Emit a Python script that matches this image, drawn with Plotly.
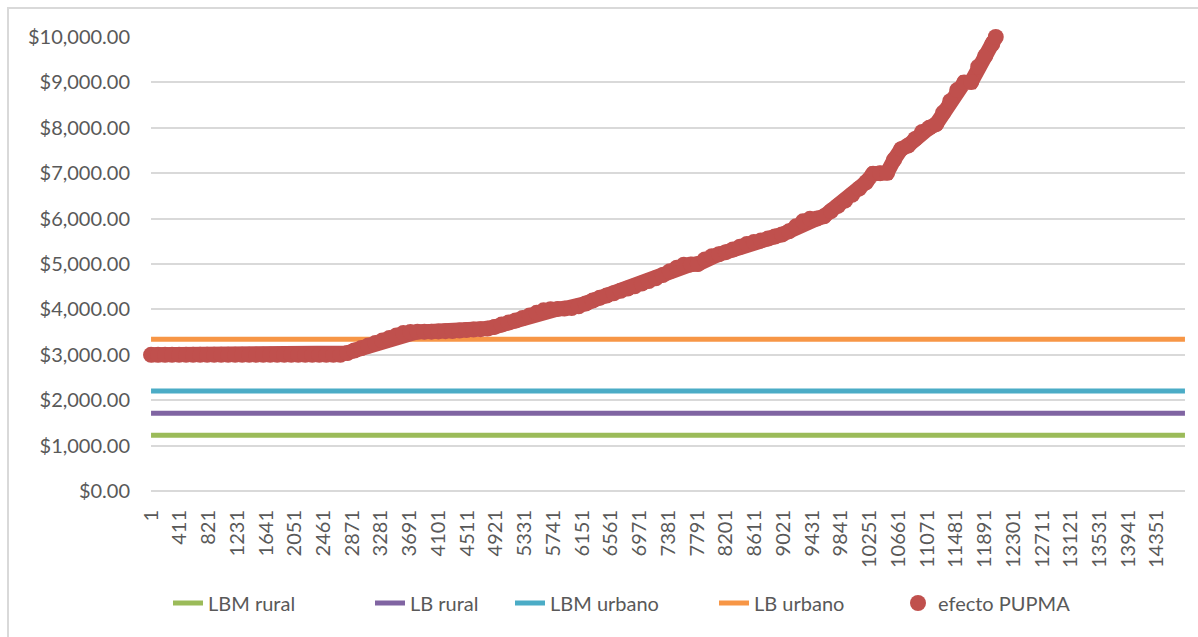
import plotly.graph_objects as go

# ---------------- data ----------------
N_CATEGORIES = 14750
x_tick_labels = [1, 411, 821, 1231, 1641, 2051, 2461, 2871, 3281, 3691, 4101, 4511,
                 4921, 5331, 5741, 6151, 6561, 6971, 7381, 7791, 8201, 8611, 9021, 9431,
                 9841, 10251, 10661, 11071, 11481, 11891, 12301, 12711, 13121, 13531,
                 13941, 14351]
y_tick_values = [0, 1000, 2000, 3000, 4000, 5000, 6000, 7000, 8000, 9000, 10000]

line_names = ["LBM rural", "LB rural", "LBM urbano", "LB urbano"]
line_values = [1230, 1710, 2200, 3340]

pupma_x = [1, 101, 201, 301, 401, 501, 601, 701, 801, 901,
           1001, 1101, 1201, 1301, 1401, 1501, 1601, 1701, 1801, 1901,
           2001, 2101, 2201, 2301, 2401, 2501, 2601, 2701, 2801, 2901,
           3001, 3101, 3201, 3301, 3401, 3501, 3601, 3701, 3801, 3901,
           4001, 4101, 4201, 4301, 4401, 4501, 4601, 4701, 4801, 4901,
           5001, 5101, 5201, 5301, 5401, 5501, 5601, 5701, 5801, 5901,
           6001, 6101, 6201, 6301, 6401, 6501, 6601, 6701, 6801, 6901,
           7001, 7101, 7201, 7301, 7401, 7501, 7601, 7701, 7801, 7901,
           8001, 8101, 8201, 8301, 8401, 8501, 8601, 8701, 8801, 8901,
           9001, 9101, 9201, 9301, 9401, 9501, 9601, 9701, 9801, 9901,
           10001, 10101, 10201, 10301, 10401, 10501, 10601, 10701, 10801, 10901,
           11001, 11101, 11201, 11301, 11401, 11501, 11601, 11701, 11801, 11901,
           12001, 12051]
pupma_y = [3000, 3000, 3000, 3000, 3000, 3000, 3000, 3000, 3000, 3000,
           3000, 3000, 3000, 3000, 3000, 3000, 3000, 3000, 3000, 3000,
           3000, 3000, 3000, 3000, 3000, 3000, 3000, 3000, 3040, 3095,
           3150, 3205, 3260, 3315, 3370, 3425, 3480, 3500, 3505, 3510,
           3510, 3515, 3520, 3525, 3535, 3545, 3555, 3565, 3580, 3615,
           3665, 3710, 3755, 3810, 3865, 3925, 3980, 4005, 4010, 4020,
           4030, 4070, 4130, 4195, 4255, 4305, 4355, 4410, 4460, 4510,
           4570, 4625, 4685, 4755, 4840, 4920, 4985, 4990, 5000, 5100,
           5170, 5215, 5260, 5320, 5380, 5440, 5485, 5520, 5560, 5605,
           5650, 5720, 5830, 5940, 5995, 6000, 6050, 6165, 6280, 6395,
           6525, 6660, 6800, 6990, 7000, 7010, 7300, 7530, 7610, 7755,
           7910, 8000, 8080, 8335, 8585, 8830, 9000, 9010, 9345, 9585,
           9845, 10000]

# ---------------- styling ----------------
line_colors = ["#9BBB59", "#8064A2", "#4BACC6", "#F79646"]
pupma_color = "#C0504D"
FONT = "Lato, 'Open Sans', sans-serif"
TXT = "#595959"
GRID = "#D9D9D9"

W, H = 1198, 637
L, R, T, B = 151, 13, 37, 146
PW, PH = W - L - R, H - T - B


def px_x(p):
    return (p - L) / PW


def px_y(p):
    return (H - B - p) / PH


fig = go.Figure()

legend_ids = ["legend", "legend2", "legend3", "legend4", "legend5"]
for i, (name, val, col) in enumerate(zip(line_names, line_values, line_colors)):
    fig.add_trace(go.Scatter(
        x=[1, N_CATEGORIES], y=[val, val], mode="lines", name=name,
        line=dict(color=col, width=5), hoverinfo="skip",
        legend=legend_ids[i],
    ))

# connecting band under the markers (same points, no new data)
fig.add_trace(go.Scatter(
    x=pupma_x, y=pupma_y, mode="lines", showlegend=False,
    line=dict(color=pupma_color, width=15), hoverinfo="skip",
    cliponaxis=False,
))
fig.add_trace(go.Scatter(
    x=pupma_x, y=pupma_y, mode="markers", name="efecto PUPMA",
    marker=dict(color=pupma_color, size=16, line=dict(width=0)),
    legend=legend_ids[4], cliponaxis=False,
))

legend_text_x = [210, 412, 552, 756, 940]
legend_common = dict(orientation="h", yanchor="middle", xanchor="left",
                     font=dict(family=FONT, size=20, color=TXT),
                     bgcolor="rgba(0,0,0,0)", itemsizing="trace")
legends = {}
for lid, tx in zip(legend_ids, legend_text_x):
    legends[lid] = dict(legend_common, x=px_x(tx - 42), y=px_y(603))

fig.update_layout(
    width=W, height=H,
    margin=dict(l=L, r=R, t=T, b=B, autoexpand=False),
    paper_bgcolor="white", plot_bgcolor="white",
    font=dict(family=FONT, size=20, color=TXT),
    showlegend=True,
    xaxis=dict(
        range=[0.5, N_CATEGORIES + 0.5], tickmode="array",
        tickvals=x_tick_labels, ticktext=[str(v) for v in x_tick_labels],
        tickangle=-90, showgrid=False, zeroline=False, showline=False,
        ticks="", ticklabelstandoff=14,
        tickfont=dict(family=FONT, size=20, color=TXT),
    ),
    yaxis=dict(
        range=[0, 10000], tickmode="array", tickvals=y_tick_values,
        ticktext=["${:,.2f}".format(v) for v in y_tick_values],
        showgrid=True, gridcolor=GRID, gridwidth=1.5,
        zeroline=True, zerolinecolor=GRID, zerolinewidth=1.5,
        showline=False, ticks="", ticklabelstandoff=20,
        tickfont=dict(family=FONT, size=20, color=TXT),
    ),
    shapes=[dict(type="rect", xref="paper", yref="paper",
                 x0=px_x(8), x1=px_x(1210), y0=px_y(650), y1=px_y(8),
                 line=dict(color=GRID, width=2), fillcolor="rgba(0,0,0,0)",
                 layer="below")],
    **legends,
)

fig.write_html("out.html", config={"displayModeBar": False},
               post_script="document.body.style.margin='0';document.body.style.overflow='hidden';")
